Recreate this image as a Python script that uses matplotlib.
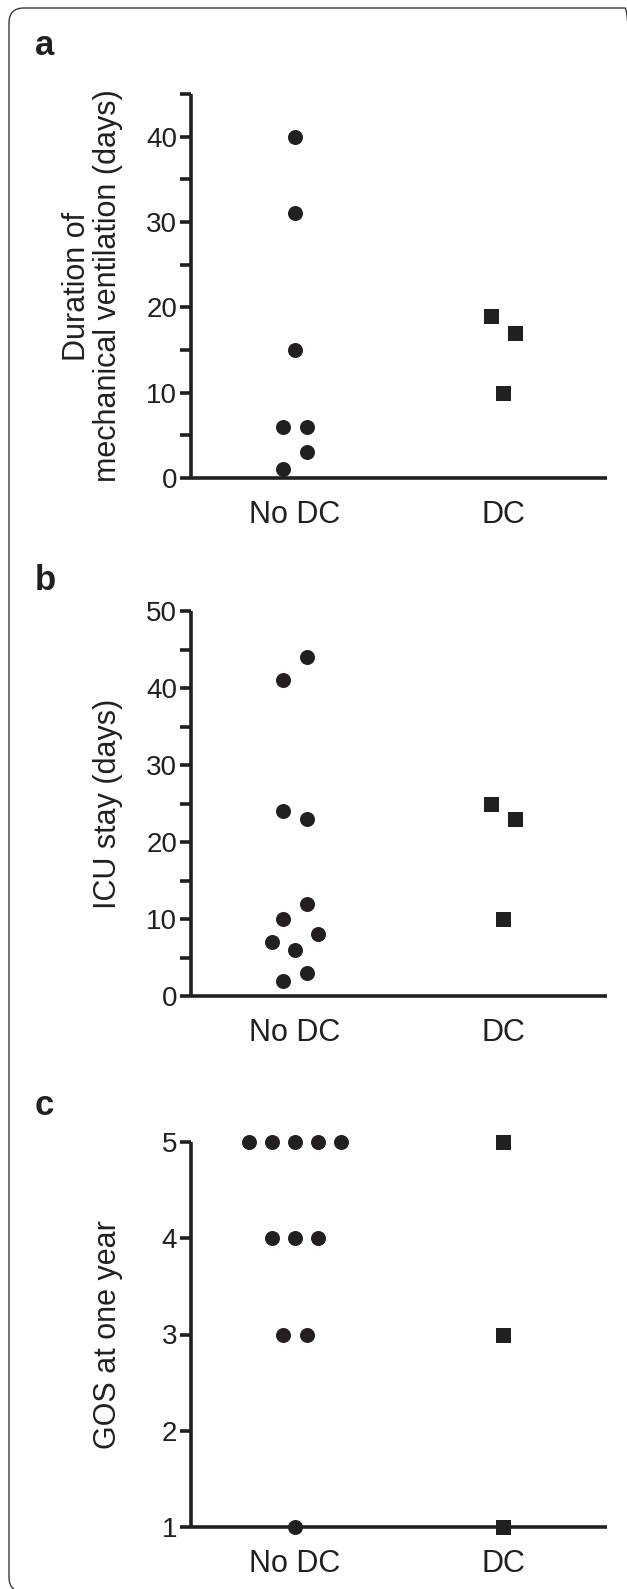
import numpy as np
import matplotlib
matplotlib.use("Agg")
import matplotlib.pyplot as plt
from matplotlib.patches import FancyBboxPatch
from matplotlib.ticker import MultipleLocator, NullFormatter

plt.rcParams['font.family'] = ['Liberation Sans', 'DejaVu Sans']

INK = '#231f20'
W, H = 627, 1589

groups = ['No DC', 'DC']

# panel a - duration of mechanical ventilation (days)
vent_nodc = [40, 31, 15, 6, 6, 3, 1]
vent_dc = [19, 17, 10]
# panel b - ICU stay (days)
icu_nodc = [44, 41, 24, 23, 12, 10, 8, 7, 6, 3, 2]
icu_dc = [25, 23, 10]
# panel c - GOS at one year
gos_nodc = [5, 5, 5, 5, 5, 4, 4, 4, 3, 3, 1]
gos_dc = [5, 3, 1]

# horizontal scatter slots (in half marker steps) so points do not overlap
vent_nodc_slot = [0, 0, 0, -1, 1, 1, -1]
vent_dc_slot = [-1, 1, 0]
icu_nodc_slot = [1, -1, -1, 1, 1, -1, 2, -2, 0, 1, -1]
icu_dc_slot = [-1, 1, 0]
gos_nodc_slot = [-4, -2, 0, 2, 4, -2, 0, 2, -1, 1, 0]
gos_dc_slot = [0, 0, 0]

STEP = 0.0556


def px_rect(x0, y0, x1, y1):
    # pixel box (top-left origin) -> figure fraction rect
    return [x0 / W, 1 - y1 / H, (x1 - x0) / W, (y1 - y0) / H]


fig = plt.figure(figsize=(W / 100, H / 100), dpi=100)
fig.patch.set_facecolor('white')

# rounded frame round the whole figure (right and bottom edges run off the page)
frame = FancyBboxPatch((0.09, -0.03), 6.31, 15.84,
                       boxstyle='round,pad=0,rounding_size=0.15',
                       transform=fig.dpi_scale_trans, fill=False,
                       edgecolor='#3a3a3a', linewidth=1.0)
fig.patches.append(frame)

panels = [
    dict(rect=px_rect(191, 94, 607, 478), ylim=(0, 45), major=10, minor=5,
         nodc=vent_nodc, dc=vent_dc, s1=vent_nodc_slot, s2=vent_dc_slot,
         ylabel='Duration of\nmechanical ventilation (days)', letter='a', ly=55),
    dict(rect=px_rect(191, 611, 607, 996), ylim=(0, 50), major=10, minor=5,
         nodc=icu_nodc, dc=icu_dc, s1=icu_nodc_slot, s2=icu_dc_slot,
         ylabel='ICU stay (days)', letter='b', ly=590),
    dict(rect=px_rect(191, 1142, 607, 1527), ylim=(1, 5), major=1, minor=None,
         nodc=gos_nodc, dc=gos_dc, s1=gos_nodc_slot, s2=gos_dc_slot,
         ylabel='GOS at one year', letter='c', ly=1115),
]

for p in panels:
    ax = fig.add_axes(p['rect'])
    x1 = 0 + np.array(p['s1']) * STEP
    x2 = 1 + np.array(p['s2']) * STEP
    ax.plot(x1, p['nodc'], 'o', color=INK, markersize=10.8, markeredgewidth=0,
            clip_on=False, zorder=4)
    ax.plot(x2, p['dc'], 's', color=INK, markersize=10.8, markeredgewidth=0,
            clip_on=False, zorder=4)

    ax.set_xlim(-0.5, 1.5)
    ax.set_ylim(*p['ylim'])
    ax.set_xticks([0, 1])
    ax.set_xticklabels(groups)
    ax.yaxis.set_major_locator(MultipleLocator(p['major']))
    if p['minor']:
        ax.yaxis.set_minor_locator(MultipleLocator(p['minor']))
        ax.yaxis.set_minor_formatter(NullFormatter())

    for side in ['top', 'right']:
        ax.spines[side].set_visible(False)
    for side in ['left', 'bottom']:
        ax.spines[side].set_linewidth(2.6)
        ax.spines[side].set_color(INK)
        ax.spines[side].set_capstyle('butt')

    ax.tick_params(axis='y', which='both', direction='out', length=8,
                   width=2.6, color=INK, labelsize=20, labelcolor=INK, pad=2)
    ax.tick_params(axis='x', length=0, labelsize=22, labelcolor=INK, pad=16)

    ax.set_ylabel(p['ylabel'], fontsize=22, color=INK, linespacing=1.05)
    ax.yaxis.set_label_coords(-0.163, 0.5)

    fig.text(35 / W, 1 - p['ly'] / H, p['letter'], fontsize=25,
             fontweight='bold', color=INK, ha='left', va='baseline')

fig.savefig('out.png', dpi=100)
